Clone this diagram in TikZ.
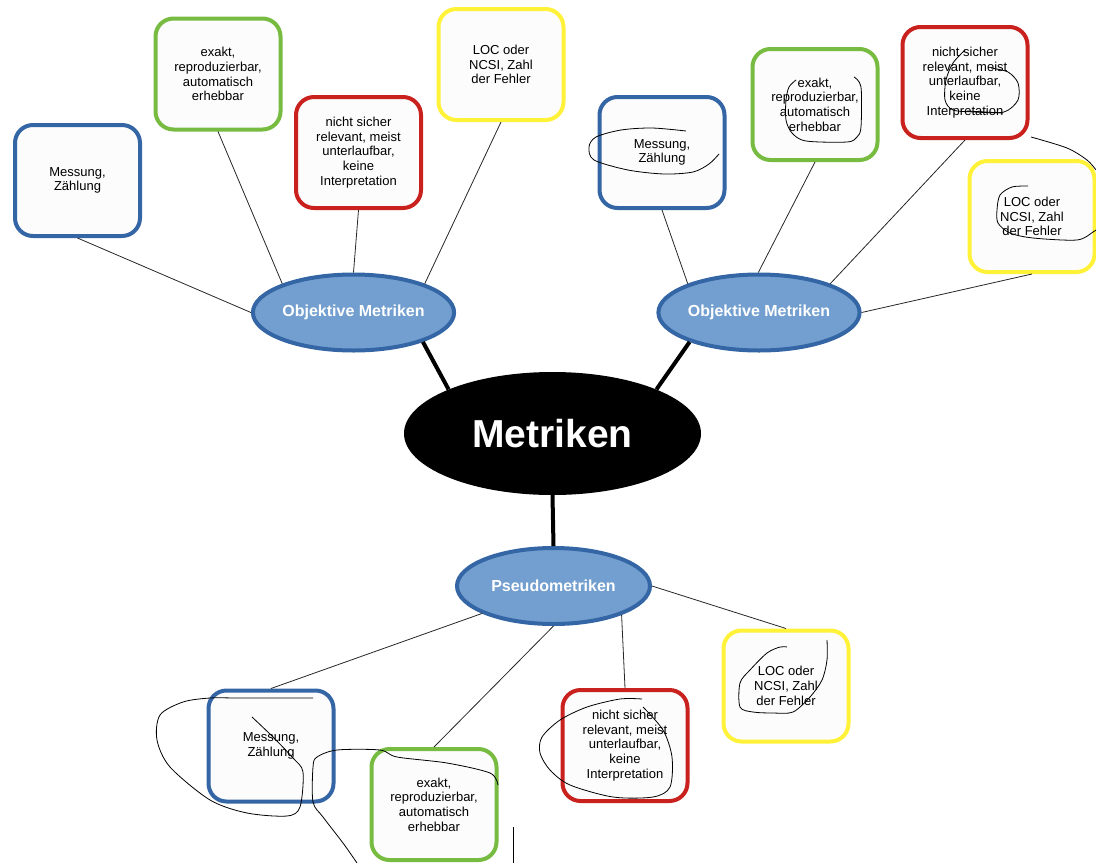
\documentclass[tikz,border=0pt]{standalone}
\usepackage{fontspec}
\setmainfont{Liberation Sans}
\usetikzlibrary{shapes.geometric}
\definecolor{lblue}{RGB}{114,159,207}
\definecolor{dblue}{RGB}{52,101,164}
\definecolor{mgreen}{RGB}{119,188,65}
\definecolor{mred}{RGB}{201,33,30}
\definecolor{myellow}{RGB}{255,242,56}
\begin{document}
\begin{tikzpicture}
  [x=1pt,y=-1pt,
   box/.style={rectangle,rounded corners=18pt,line width=4pt,fill=white!99!black,
     minimum width=125pt,minimum height=111pt,inner sep=2pt,align=center,
     font=\fontsize{13}{14.7}\selectfont},
   sub/.style={ellipse,draw=dblue,fill=lblue,line width=4pt,minimum width=193pt,
     minimum height=76pt,inner sep=0pt,text=white,font=\bfseries\fontsize{16}{19}\selectfont},
   leg/.style={line width=0.8pt,black!85},
   scribble/.style={line width=0.8pt,black}]
  \useasboundingbox (0,0) rectangle (1096,863);

  \node (m)[ellipse,fill=black,minimum width=297pt,minimum height=123pt,inner sep=0pt,
    text=white,font=\bfseries\fontsize{39}{44}\selectfont] at (552.5,433.5) {Metriken};
  \node (o1)[sub] at (353.5,312.5) {Objektive Metriken};
  \node (o2)[sub] at (759,312.5) {Objektive Metriken};
  \node (p)[sub] at (553.5,586) {Pseudometriken};

  \node (mess1)[box,draw=dblue] at (77.5,180.5) {Messung,\\Zählung};
  \node (exakt1)[box,draw=mgreen] at (218,74) {exakt,\\reproduzierbar,\\automatisch\\erhebbar};
  \node (nicht1)[box,draw=mred] at (358.5,152.5) {nicht sicher\\relevant, meist\\unterlaufbar,\\keine\\Interpretation};
  \node (loc1)[box,draw=myellow] at (501,64.5) {LOC oder\\NCSI, Zahl\\der Fehler};

  \node (mess2)[box,draw=dblue] at (662,152.5) {Messung,\\Zählung};
  \node (exakt2)[box,draw=mgreen] at (815,104.5) {exakt,\\reproduzierbar,\\automatisch\\erhebbar};
  \node (nicht2)[box,draw=mred] at (965,82.5) {nicht sicher\\relevant, meist\\unterlaufbar,\\keine\\Interpretation};
  \node (loc2)[box,draw=myellow] at (1032,216.5) {LOC oder\\NCSI, Zahl\\der Fehler};

  \node (mess3)[box,draw=dblue] at (271,746) {Messung,\\Zählung};
  \node (exakt3)[box,draw=mgreen] at (434,804.5) {exakt,\\reproduzierbar,\\automatisch\\erhebbar};
  \node (nicht3)[box,draw=mred] at (625,745.5) {nicht sicher\\relevant, meist\\unterlaufbar,\\keine\\Interpretation};
  \node (loc3)[box,draw=myellow] at (786,686) {LOC oder\\NCSI, Zahl\\der Fehler};

  \foreach \from/\to in {m.157/o1.-23, m.23/o2.-157, m.south/p.north}
    \draw[line width=4pt] (\from) -- (\to);

  \foreach \from/\to in {mess1.south/o1.180, exakt1.south/o1.158, nicht1.south/o1.north,
      loc1.south/o1.22, mess2.south/o2.158, exakt2.south/o2.91, nicht2.south/o2.22,
      loc2.south/o2.east, mess3.north/p.201, exakt3.north/p.south, nicht3.north/p.-23, loc3.north/p.east}
    \draw[leg] (\from) -- (\to);

  % scribbles
  \draw[scribble] plot[smooth,tension=.5] coordinates {(686,131) (652,128) (621,130) (596,137) (589,147) (594,160) (628,170) (664,174) (693,172) (709,164) (719,154)};
  \draw[scribble] plot[smooth,tension=.5] coordinates {(854,77) (861,87) (861,127) (857,137) (847,142) (806,141) (792,133) (786,120) (786,100) (789,87) (796,80)};
  \draw[scribble] plot[smooth,tension=.5] coordinates {(965,50) (953,63) (946,80) (945,100) (953,110) (975,112) (1004,112) (1018,100) (1018,83) (1008,72) (991,68)};
  \draw[scribble] (967,111) -- (1003,113);
  \draw[scribble] plot[smooth,tension=.5] coordinates {(1028,186) (1012,187) (1000,195) (997,210) (998,223) (1010,233) (1033,238) (1077,240) (1093,232) (1096,230)};
  \draw[scribble] plot[smooth,tension=.5] coordinates {(1031,137) (1067,148) (1087,160) (1096,170)};
  \draw[scribble] plot[smooth,tension=.5] coordinates {(313,698) (240,698) (210,698) (183,702) (160,715) (157,740) (170,767) (210,800) (247,813) (287,816) (300,807) (303,772) (293,758) (273,737) (252,717)};
  \draw[scribble] plot[smooth,tension=.5] coordinates {(498,785) (490,773) (447,763) (397,757) (380,750) (337,750) (317,757) (313,767) (313,802) (323,817) (343,843) (357,863)};
  \draw[scribble] (513,827) -- (513,863);
  \draw[scribble] plot[smooth,tension=.5] coordinates {(642,699) (620,699) (587,707) (560,720) (542,737) (540,753) (550,770) (570,785) (613,797) (653,797) (670,787) (672,757) (663,730) (643,707)};
  \draw[scribble] plot[smooth,tension=.5] coordinates {(787,647) (780,647) (767,653) (750,670) (740,683) (740,707) (753,712) (773,713) (793,712) (810,697) (822,680) (827,660) (827,640)};
\end{tikzpicture}
\end{document}
